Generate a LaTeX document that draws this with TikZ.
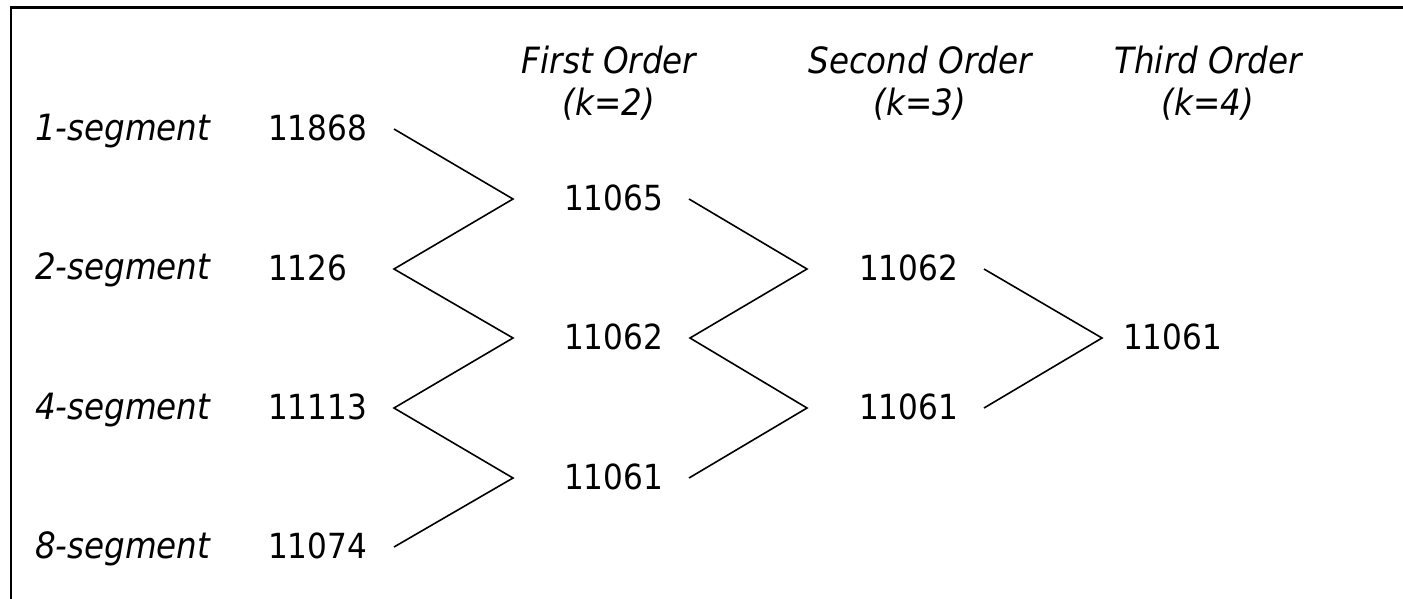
\documentclass[tikz,border=0pt]{standalone}
\usepackage{fontspec}
\setmainfont{DejaVu Sans Condensed}[ItalicFont={DejaVu Sans Condensed Oblique}]
\begin{document}
\begin{tikzpicture}[x=1pt,y=-1pt,
  every node/.style={inner sep=0pt,outer sep=0pt,font=\fontsize{34.6}{40}\selectfont},
  num/.style={anchor=west,text height=25pt,text depth=3pt},
  lab/.style={anchor=base west,font=\fontsize{36.2}{42}\selectfont\itshape},
  head/.style={anchor=base,font=\fontsize{36.2}{42}\selectfont\itshape},
  conn/.style={draw=black,line width=1.6pt,line join=miter}]
\useasboundingbox (0,0) rectangle (1403,598);
\fill[white] (0,0) rectangle (1403,598);
% frame (partly cut off)
\draw[line width=2.6pt] (11,610) -- (11,7.5) -- (1420,7.5);
% headers
\node[head] (h1a) at (609,73) {First Order};
\node[head] (h1b) at (609,115) {(k=2)};
\node[head] (h2a) at (920,73) {Second Order};
\node[head] (h2b) at (920,115) {(k=3)};
\node[head] (h3a) at (1208,73) {Third Order};
\node[head] (h3b) at (1208,115) {(k=4)};
% row labels
\node[lab] (l1) at (35,140) {1-segment};
\node[lab] (l2) at (35,279) {2-segment};
\node[lab] (l4) at (35,419) {4-segment};
\node[lab] (l8) at (35,558) {8-segment};
% column 1
\node[num] (a1) at (268,129) {11868};
\node[num] (a2) at (268,269) {1126};
\node[num] (a3) at (268,408) {11113};
\node[num] (a4) at (268,547) {11074};
% column 2
\node[num] (b1) at (564,199) {11065};
\node[num] (b2) at (564,338) {11062};
\node[num] (b3) at (564,478) {11061};
% column 3
\node[num] (c1) at (859,269) {11062};
\node[num] (c2) at (859,408) {11061};
% column 4
\node[num] (d1) at (1123,338) {11061};
% connectors
\draw[conn] (a1.west -| 394,0) -- (b1.west -| 513,0) -- (a2.west -| 394,0) -- (b2.west -| 513,0)
  -- (a3.west -| 394,0) -- (b3.west -| 513,0) -- (a4.west -| 394,0);
\draw[conn] (b1.west -| 689,0) -- (c1.west -| 807,0) -- (b2.west -| 690,0) -- (c2.west -| 807,0)
  -- (b3.west -| 689,0);
\draw[conn] (c1.west -| 984,0) -- (d1.west -| 1102,0) -- (c2.west -| 984,0);
\end{tikzpicture}
\end{document}
